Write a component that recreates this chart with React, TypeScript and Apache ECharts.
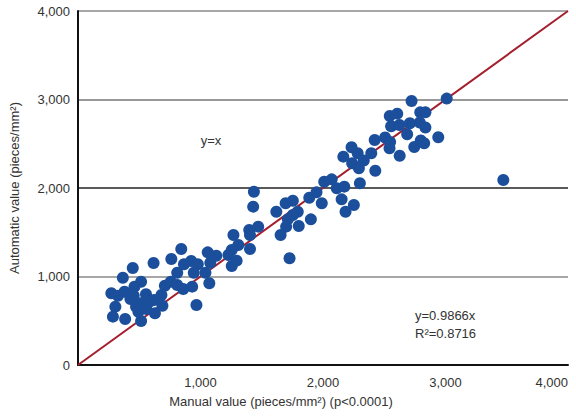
import React, { useEffect, useRef } from "react";
import * as echarts from "echarts";

// Manual value (x) and automatic value (y), pieces/mm²
const manualValue = [
  843, 1059, 762, 617, 447, 865, 924, 978, 366, 515, 810, 945, 1040, 272, 380, 326, 461, 455, 555, 709,
  757, 810, 859, 932, 1072, 681, 622, 582, 515, 474, 305, 689, 493, 285, 385, 515, 628, 967, 428, 558,
  1129, 1080, 1436, 1430, 1754, 1695, 1619, 1794, 1754, 1713, 1802, 1699, 1654, 1471, 1398, 1404, 1269, 1309, 1404, 1255,
  1228, 1295, 1255, 1727, 1901, 1888, 1947, 1990, 2010, 2071, 2112, 2174, 2152, 2252, 2184, 2301, 2238, 2333, 2293, 2427,
  2233, 2283, 2166, 2394, 2422, 2507, 2548, 2543, 2626, 2687, 2745, 2798, 2826, 2941, 2556, 2624, 2709, 2790, 2836, 2545,
  2606, 2794, 2836, 2723, 3010, 3472,
];
const automaticValue = [
  1311, 1273, 1198, 1153, 1096, 1138, 1175, 1138, 986, 941, 1043, 1043, 1043, 810, 828, 783, 885, 783, 799, 896,
  941, 904, 859, 885, 923, 791, 734, 715, 697, 659, 659, 670, 602, 546, 520, 497, 584, 678, 746, 633,
  1235, 1156, 1958, 1789, 1856, 1827, 1732, 1732, 1695, 1646, 1571, 1563, 1469, 1563, 1525, 1469, 1469, 1356, 1311, 1299,
  1243, 1179, 1119, 1206, 1646, 1890, 1951, 1827, 2071, 2098, 1997, 2015, 1872, 1808, 1732, 2053, 2279, 2311, 2223, 2195,
  2460, 2392, 2354, 2392, 2542, 2571, 2520, 2449, 2364, 2608, 2463, 2537, 2505, 2573, 2697, 2712, 2731, 2740, 2684, 2814,
  2840, 2855, 2855, 2983, 3010, 2090,
];
const identityX = [0, 4000];
const identityY = [0, 4000];
const axisMin = 0;
const axisMax = 4000;
const axisStep = 1000;

const xAxisTitle = "Manual value (pieces/mm²) (p<0.0001)";
const yAxisTitle = "Automatic value (pieces/mm²)";
const identityLabel = "y=x";
const fitLabel = "y=0.9866x";
const r2Label = "R²=0.8716";

const FONT = "'Liberation Sans', Arial, sans-serif";
const TEXT = "#333333";

export default function App() {
  const ref = useRef<HTMLDivElement>(null);
  useEffect(() => {
    if (!ref.current) return;
    const chart = echarts.init(ref.current, null, { renderer: "svg" });
    const points = manualValue.map((x, i) => [x, automaticValue[i]]);
    const line = identityX.map((x, i) => [x, identityY[i]]);
    chart.setOption({
      animation: false,
      backgroundColor: "#ffffff",
      grid: { left: 73, right: 8, top: 11, bottom: 53, containLabel: false },
      xAxis: {
        type: "value",
        min: axisMin,
        max: axisMax,
        interval: axisStep,
        axisLine: { show: true, lineStyle: { color: "#111", width: 2 } },
        axisTick: { show: false },
        splitLine: { show: false },
        axisLabel: {
          showMinLabel: false,
          alignMaxLabel: "right",
          margin: 11,
          color: TEXT,
          fontFamily: FONT,
          fontSize: 13,
          formatter: (v: number) => v.toLocaleString("en-US"),
        },
      },
      yAxis: {
        type: "value",
        min: axisMin,
        max: axisMax,
        interval: axisStep,
        name: yAxisTitle,
        nameLocation: "middle",
        nameGap: 57,
        nameTextStyle: { color: TEXT, fontFamily: FONT, fontSize: 13 },
        axisLine: { show: true, lineStyle: { color: "#111", width: 2 } },
        axisTick: { show: false },
        splitLine: {
          show: true,
          lineStyle: { color: ["#888", "#8a8a8a", "#222", "#777", "#8a8a8a"], width: 1.5 },
        },
        axisLabel: {
          margin: 8,
          padding: [8, 0, 0, 0],
          color: TEXT,
          fontFamily: FONT,
          fontSize: 13,
          formatter: (v: number) => v.toLocaleString("en-US"),
        },
      },
      graphic: [
        {
          type: "text",
          x: 281,
          y: 401,
          style: { text: xAxisTitle, fill: TEXT, font: `13px ${FONT}`, align: "center", verticalAlign: "middle" },
        },
        {
          type: "text",
          x: 211,
          y: 140,
          style: { text: identityLabel, fill: TEXT, font: `13px ${FONT}`, align: "center", verticalAlign: "middle" },
        },
        {
          type: "text",
          x: 415,
          y: 315,
          style: { text: fitLabel, fill: TEXT, font: `13px ${FONT}`, align: "left", verticalAlign: "middle" },
        },
        {
          type: "text",
          x: 415,
          y: 333,
          style: { text: r2Label, fill: TEXT, font: `13px ${FONT}`, align: "left", verticalAlign: "middle" },
        },
      ],
      series: [
        {
          type: "line",
          data: line,
          symbol: "none",
          lineStyle: { color: "#a31f2e", width: 2 },
          z: 2,
          silent: true,
        },
        {
          type: "scatter",
          data: points,
          symbol: "circle",
          symbolSize: 12,
          itemStyle: { color: "#1b4f9c", opacity: 1 },
          z: 3,
        },
      ],
    });
    return () => chart.dispose();
  }, []);
  return (
    <div
      ref={ref}
      style={{ position: "fixed", left: 0, top: 0, width: 576, height: 418, background: "#fff" }}
    />
  );
}
